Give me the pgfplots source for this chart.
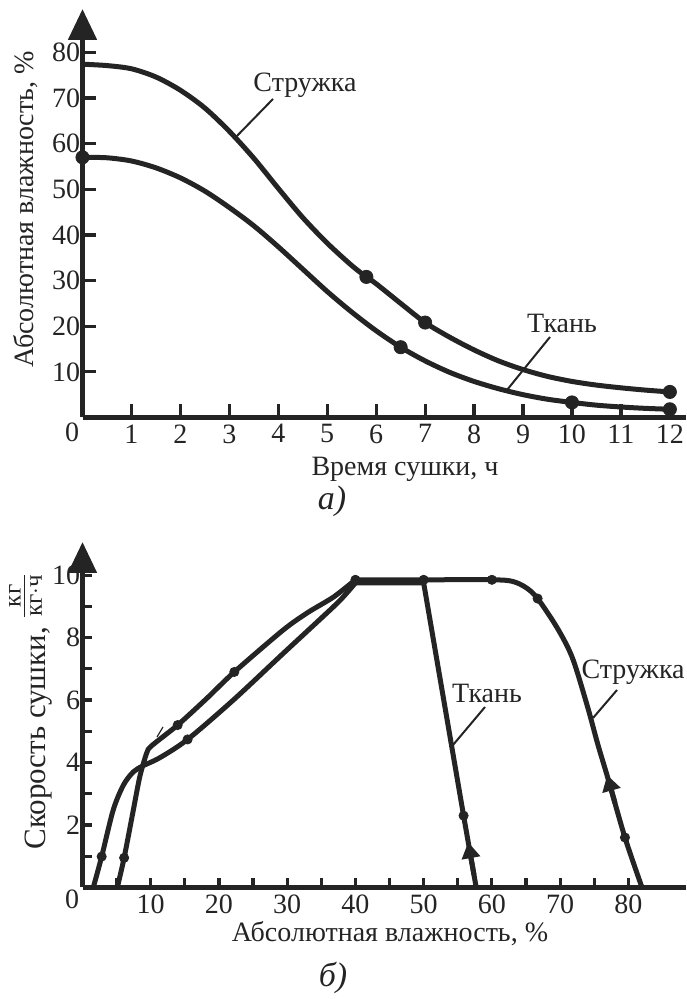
\documentclass[border=0pt]{standalone}
\usepackage{pgfplots}
\pgfplotsset{compat=1.18}
\usetikzlibrary{arrows.meta}
\usepackage{fontspec}
\setmainfont{Liberation Serif}
\definecolor{ink}{HTML}{242424}
\begin{document}
\begin{tikzpicture}
\useasboundingbox (0,0) rectangle (343pt,499.5pt);
\pgfplotsset{
  myax/.style={
    scale only axis, axis lines=left,
    x axis line style={-, line width=2.5pt, draw=ink},
    y axis line style={-{Triangle[width=14pt,length=15.5pt]}, line width=2.5pt, draw=ink, fill=ink},
    tick align=inside,
    major tick style={line width=1.6pt, draw=ink},
    minor tick style={line width=1.6pt, draw=ink},
    tick label style={font=\fontsize{14}{15}\selectfont, text=ink},
    yticklabel style={inner sep=1pt},
    /pgf/number format/assume math mode=true,
    clip=false,
  },
  crv/.style={draw=ink, line width=2.5pt},
}
% ---------- panel a ----------
\begin{axis}[myax, at={(41.25pt,290.75pt)}, anchor=south west,
  width=301.75pt, height=204.25pt,
  xmin=0, xmax=12.33, ymin=0, ymax=89.5,
  xtick={1,2,...,12}, ytick={10,20,...,80},
  major tick length=6.5pt]
\addplot[crv, smooth, tension=0.5] coordinates {
 (0,77.4)(0.5,77.1)(1,76.4)(1.5,74.6)(2,71.7)(2.5,67.8)(3,62.7)(3.5,56.8)(4,50.2)(4.5,43.8)(5,38.2)(5.5,33.3)(5.8,30.8)(6,29.3)(6.5,25)(7,20.8)(7.5,17.6)(8,14.8)(8.5,12.4)(9,10.5)(9.5,9)(10,7.9)(10.5,7.1)(11,6.5)(11.5,6)(12,5.6)};
\addplot[crv, smooth, tension=0.5] coordinates {
 (0,57)(0.5,56.9)(1,56.2)(1.5,54.7)(2,52.5)(2.5,49.6)(3,46)(3.5,42)(4,37.4)(4.5,32.5)(5,27.6)(5.5,23.1)(6,19.0)(6.5,15.4)(7,12.4)(7.5,9.9)(8,7.9)(8.5,6.3)(9,5.0)(9.5,4.0)(10,3.3)(10.5,2.7)(11,2.3)(11.5,2.0)(12,1.8)};
\addplot[only marks, mark=*, mark size=3.3pt, ink] coordinates {(5.8,30.8)(7,20.8)(12,5.6)};
\addplot[only marks, mark=*, mark size=3.3pt, ink] coordinates {(0,57)(6.5,15.4)(10,3.3)(12,1.8)};
\end{axis}
% ---------- panel b ----------
\begin{axis}[myax, at={(41.25pt,55.75pt)}, anchor=south west,
  width=301.75pt, height=172.75pt,
  xmin=0, xmax=88.45, ymin=0, ymax=11.06,
  xtick={10,20,...,80}, minor xtick={5,15,...,75},
  ytick={2,4,...,10}, minor ytick={1,3,...,9},
  major tick length=4.8pt, minor tick length=4.8pt]
% Tkan'
\addplot[crv, smooth, tension=0.5] coordinates {
 (1.58,0)(2.81,0.99)(4.5,2.48)(6.0,3.28)(7.45,3.7)(8.9,3.9)(11.3,4.15)(15.4,4.74)(22.1,6.0)(29.4,7.49)(36.8,8.99)(38.7,9.42)(40,9.75)};
\addplot[crv, line join=round] coordinates {(40,9.75)(50,9.75)(55.85,2.3)(57.7,0)};
% Struzhka
\addplot[crv, smooth, tension=0.45] coordinates {
 (5.1,0)(6.1,0.95)(7.45,2.48)(8.4,3.55)(9.4,4.3)(10.1,4.53)(13.95,5.2)(18.2,6.05)(22.25,6.9)(29.4,8.24)(33,8.8)(36.8,9.3)(40,9.85)};
\addplot[crv, smooth, tension=0.5] coordinates {
 (40,9.85)(50,9.85)(60,9.85)(63,9.8)(65,9.6)(66.7,9.25)(69.6,8.3)(71.8,7.35)(74,5.8)(75.5,4.6)(77,3.5)(79.5,1.6)(82,0)};
\addplot[only marks, mark=*, mark size=2.3pt, ink] coordinates {(2.81,0.99)(15.4,4.74)(55.85,2.3)};
\addplot[only marks, mark=*, mark size=2.3pt, ink] coordinates {(6.1,0.95)(13.95,5.2)(22.25,6.9)(40,9.85)(50,9.85)(60,9.85)(66.7,9.25)(79.5,1.6)};
% direction arrows
\addplot[draw=ink, fill=ink, line width=2.5pt, -{Triangle[width=9pt,length=8pt]}] coordinates {(57.38,0.4)(56.53,1.45)};
\addplot[draw=ink, fill=ink, line width=2.5pt, -{Triangle[width=9pt,length=8pt]}] coordinates {(78.05,2.7)(76.9,3.6)};
\end{axis}
% ---------- texts (pixel coordinates) ----------
\begin{scope}[x=0.5pt, y=-0.5pt, yshift=499.5pt, every node/.style={text=ink, inner sep=0pt}]
\def\lab{\fontsize{14}{16}\selectfont}
\node[font=\fontsize{14}{15}\selectfont] at (72,432) {0};
\node[font=\fontsize{14}{15}\selectfont] at (72,899) {0};
\node[font=\lab, anchor=center] at (305,85) {Стружка};
\node[font=\lab, anchor=center] at (562,323) {Ткань};
\draw[ink, line width=1pt] (273,99) -- (235,138);
\draw[ink, line width=1pt] (550,337) -- (507,390);
\node[font=\lab, anchor=base] at (405,476) {Время сушки, ч};
\node[font=\lab, anchor=base west, rotate=90] at (33,368) {Абсолютная влажность, \%};
\node[font=\fontsize{17}{18}\selectfont\itshape] at (332,501) {а)};
% panel b
\node[font=\lab, anchor=center] at (487,693) {Ткань};
\node[font=\lab, anchor=east] at (685,672) {Стружка};
\draw[ink, line width=1pt] (485,707) -- (453,745);
\draw[ink, line width=1pt] (617,690) -- (593,718);
\draw[ink, line width=0.6pt] (157,737) -- (163,727);
\node[font=\lab, anchor=base] at (390,942) {Абсолютная влажность, \%};
\node[font=\fontsize{15.5}{17}\selectfont, anchor=base west, rotate=90] at (45,850) {Скорость сушки, \raisebox{6.5pt}{$\frac{\mbox{\fontsize{12.5}{13}\selectfont кг}}{\mbox{\fontsize{12.5}{13}\selectfont кг$\cdot$ч}}$}};
\node[font=\fontsize{17}{18}\selectfont\itshape] at (333,978) {б)};
\end{scope}
\end{tikzpicture}
\end{document}
